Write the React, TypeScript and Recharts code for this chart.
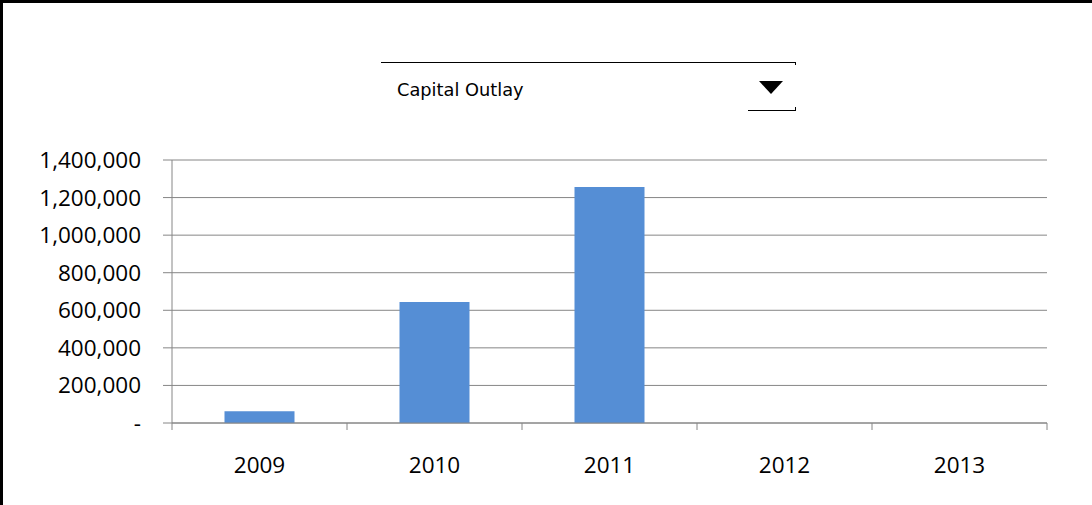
import { Bar, BarChart, CartesianGrid, XAxis, YAxis } from 'recharts';

const years = ['2009', '2010', '2011', '2012', '2013'];
const capitalOutlay = [63000, 644000, 1256000, 0, 0];
const yTicks = [0, 200000, 400000, 600000, 800000, 1000000, 1200000, 1400000];

const rows = years.map((year, i) => ({ year, value: capitalOutlay[i] }));

const axisGray = '#868686';
const axisFont = '"Open Sans", sans-serif';

const formatY = (v: number) => (v === 0 ? '-' : v.toLocaleString('en-US'));

function YearTick(props: any) {
  const { x, y, payload, index, visibleTicksCount, width } = props;
  const half = payload.offset ? payload.offset : width / visibleTicksCount / 2;
  return (
    <g>
      <line x1={x - half} x2={x - half} y1={y} y2={y + 7} stroke={axisGray} />
      {index === visibleTicksCount - 1 && (
        <line x1={x + half} x2={x + half} y1={y} y2={y + 7} stroke={axisGray} />
      )}
      <text x={x} y={y + 50} textAnchor="middle" fill="#000" fontSize={22.5} fontFamily={axisFont}>
        {payload.value}
      </text>
    </g>
  );
}

export default function App() {
  return (
    <div style={{ position: 'absolute', left: 0, top: 0, width: 1092, height: 505, background: '#fff' }}>
      <BarChart
        width={1092}
        height={505}
        data={rows}
        margin={{ top: 160, right: 45, bottom: 0, left: 0 }}
        barCategoryGap="30%"
      >
        <CartesianGrid vertical={false} stroke={axisGray} />
        <XAxis
          dataKey="year"
          height={82}
          axisLine={{ stroke: axisGray }}
          tickLine={false}
          tickSize={0}
          tickMargin={0}
          tick={<YearTick />}
          interval={0}
        />
        <YAxis
          width={172}
          domain={[0, 1400000]}
          ticks={yTicks}
          tickFormatter={formatY}
          axisLine={{ stroke: axisGray }}
          tickLine={{ stroke: axisGray }}
          tickSize={9}
          tickMargin={22}
          tick={{ fill: '#000', fontSize: 22.5, fontFamily: axisFont }}
          interval={0}
        />
        <Bar dataKey="value" fill="#558ed5" isAnimationActive={false} />
      </BarChart>
      <svg
        width={1092}
        height={505}
        style={{ position: 'absolute', left: 0, top: 0, pointerEvents: 'none' }}
      >
        <rect x={0} y={0} width={1092} height={3} fill="#000" />
        <rect x={0} y={0} width={3} height={505} fill="#000" />
        <line x1={381} x2={795.5} y1={62.5} y2={62.5} stroke="#000" />
        <line x1={795.5} x2={795.5} y1={62} y2={65} stroke="#000" />
        <line x1={748} x2={795.5} y1={110.5} y2={110.5} stroke="#000" />
        <line x1={795.5} x2={795.5} y1={107} y2={111} stroke="#000" />
        <text x={397} y={96} fontSize={17.8} fontFamily='"DejaVu Sans", sans-serif' fill="#000">
          Capital Outlay
        </text>
        <polygon points="759,81 783,81 771,94" fill="#000" />
      </svg>
    </div>
  );
}
